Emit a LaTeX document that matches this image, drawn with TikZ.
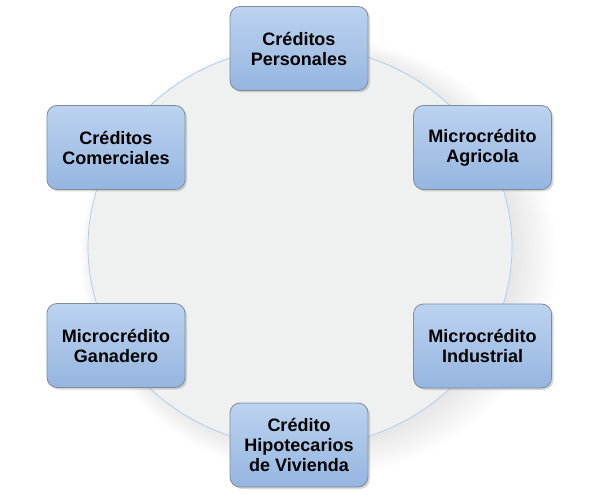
\documentclass[tikz,border=0pt]{standalone}
\usepackage{fontspec}
\setmainfont{Liberation Sans}
\usetikzlibrary{shadows,fadings,shapes.geometric}
\definecolor{ringfill}{HTML}{EFF0F0}
\definecolor{ringline}{HTML}{A9CBEA}
\definecolor{boxtop}{HTML}{BCD3F0}
\definecolor{boxbot}{HTML}{95B5E0}
\definecolor{boxline}{HTML}{7E8C9C}
\tikzset{
  credbox/.style={rectangle, rounded corners=10pt, draw=boxline, line width=0.8pt,
    top color=boxtop, bottom color=boxbot, minimum width=138pt, minimum height=84pt,
    align=center, font=\fontsize{18}{20}\selectfont\bfseries, text=black,
    drop shadow={shadow xshift=2pt, shadow yshift=-2pt, opacity=0.25, fill=black!60}},
  ring/.style={draw=ringline, line width=0.7pt, fill=ringfill}
}
\begin{document}
\begin{tikzpicture}[x=1pt,y=-1pt]
\useasboundingbox (0,0) rectangle (600,500);
\fill[white] (0,0) rectangle (600,500);
% soft shadow around ring
\foreach \k in {1,...,12}{
  \fill[black, opacity=0.007] (304+1.2*\k,250+0.6*\k) ellipse [x radius={208+2.5*\k}, y radius={196+2*\k}];
}
\node[ring, ellipse, minimum width=424pt, minimum height=400pt, inner sep=0pt] (ring) at (300,247) {};
\node[credbox] (personales) at (299,48.5) {Créditos\\Personales};
\node[credbox] (comerciales) at (116,147.5) {Créditos\\Comerciales};
\node[credbox] (agricola) at (482.5,147.5) {Microcrédito\\Agricola};
\node[credbox] (ganadero) at (116,345.5) {Microcrédito\\Ganadero};
\node[credbox] (industrial) at (482.5,346) {Microcrédito\\Industrial};
\node[credbox] (vivienda) at (299,445) {Crédito\\Hipotecarios\\de Vivienda};
\end{tikzpicture}
\end{document}
